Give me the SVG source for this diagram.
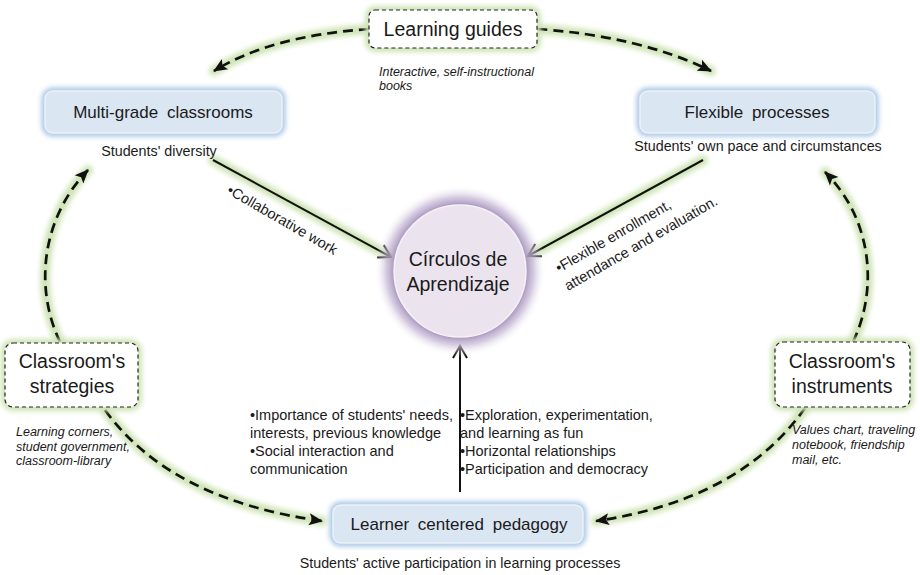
<svg xmlns="http://www.w3.org/2000/svg" width="920" height="575" viewBox="0 0 920 575">
  <defs>
    <style>
      text { font-family: "Liberation Sans", Arial, sans-serif; fill: #1a1a1a; }
      .title { font-size: 19.5px; }
      .box-label { font-size: 17px; word-spacing: 4px; }
      .sub { font-size: 14.3px; }
      .note { font-size: 12.5px; font-style: italic; }
      .bullet { font-size: 14.5px; }
      .halo { fill: none; stroke: #cfe4b6; stroke-width: 10; stroke-linecap: round; filter: url(#soft); }
      .dash { fill: none; stroke: #111; stroke-width: 2.7; stroke-dasharray: 10 6; marker-end: url(#tri); }
      .solid { fill: none; stroke: #111; stroke-width: 2; marker-end: url(#chev); }
      .dbox { fill: #fff; stroke: #222; stroke-width: 1.2; stroke-dasharray: 4 3; }
      .dbox-halo { fill: none; stroke: #cfe4b6; stroke-width: 8; filter: url(#soft); }
      .bbox { fill: #dbe6f3; stroke: #eaf1f9; stroke-width: 1.5; }
      .bbox-halo { fill: none; stroke: #a9c6e6; stroke-width: 7; filter: url(#soft); }
    </style>
    <filter id="soft" x="-20%" y="-20%" width="140%" height="140%">
      <feGaussianBlur stdDeviation="2.4"/>
    </filter>
    <radialGradient id="ringGlow" cx="0.5" cy="0.5" r="0.5">
      <stop offset="0.76" stop-color="#a390ba"/>
      <stop offset="0.86" stop-color="#c4b6d4" stop-opacity="0.7"/>
      <stop offset="1" stop-color="#ffffff" stop-opacity="0"/>
    </radialGradient>
    <marker id="tri" markerUnits="userSpaceOnUse" markerWidth="16" markerHeight="16" viewBox="0 0 16 16" refX="14" refY="8" orient="auto">
      <path d="M1 2 L15 8 L1 14 L4 8 Z" fill="#111"/>
    </marker>
    <marker id="chev" markerUnits="userSpaceOnUse" markerWidth="18" markerHeight="18" viewBox="0 0 18 18" refX="16" refY="9" orient="auto">
      <path d="M4 2 L16 9 L4 16" fill="none" stroke="#111" stroke-width="2"/>
    </marker>
  </defs>

  <rect width="920" height="575" fill="#ffffff"/>

  <!-- connectors -->
  <g id="connectors">
    <!-- green halos -->
    <path class="halo" d="M369 29 Q 270 36 214 71"/>
    <path class="halo" d="M537 29 Q 640 36 711 71"/>
    <path class="halo" d="M60 342 C 35 290 40 220 88 170"/>
    <path class="halo" d="M853 342 C 878 290 873 220 825 172"/>
    <path class="halo" d="M105 410 Q 170 500 322 521"/>
    <path class="halo" d="M805 408 Q 740 500 596 521"/>
    <path class="halo" d="M213 160 L 391 257"/>
    <path class="halo" d="M703 160 L 528 256"/>
    <path class="halo" d="M460 492 L 460 346"/>

    <!-- dashed arrows -->
    <path class="dash" d="M369 29 Q 270 36 214 71"/>
    <path class="dash" d="M537 29 Q 640 36 711 71"/>
    <path class="dash" d="M60 342 C 35 290 40 220 88 170"/>
    <path class="dash" d="M853 342 C 878 290 873 220 825 172"/>
    <path class="dash" d="M105 410 Q 170 500 322 521"/>
    <path class="dash" d="M805 408 Q 740 500 596 521"/>

    <!-- solid arrows into the centre -->
    <path class="solid" d="M213 160 L 391 257"/>
    <path class="solid" d="M703 160 L 528 256"/>
    <path class="solid" d="M460 492 L 460 346"/>

    <!-- arrow labels -->
    <text class="bullet" transform="translate(226 193) rotate(30)">•Collaborative work</text>
    <text class="bullet" transform="translate(559 273) rotate(-30)">•Flexible enrollment,</text>
    <text class="bullet" transform="translate(568 291) rotate(-30)">attendance and evaluation.</text>

    <text class="bullet" x="250" y="420">•Importance of students' needs,</text>
    <text class="bullet" x="250" y="438">interests, previous knowledge</text>
    <text class="bullet" x="250" y="456">•Social interaction and</text>
    <text class="bullet" x="250" y="474">communication</text>

    <text class="bullet" x="460" y="420">•Exploration, experimentation,</text>
    <text class="bullet" x="460" y="438">and learning as fun</text>
    <text class="bullet" x="460" y="456">•Horizontal relationships</text>
    <text class="bullet" x="460" y="474">•Participation and democracy</text>
  </g>

  <!-- centre -->
  <g id="circulos">
    <circle cx="460" cy="271" r="86" fill="url(#ringGlow)"/>
    <circle cx="460" cy="271" r="66" fill="#ebe4ef" stroke="#f6f2f8" stroke-width="1.5"/>
    <text class="title" x="458" y="266" text-anchor="middle">Círculos de</text>
    <text class="title" x="458" y="291" text-anchor="middle">Aprendizaje</text>
  </g>

  <g id="learning-guides">
    <rect class="dbox-halo" x="369" y="10" width="168" height="38" rx="6"/>
    <rect class="dbox" x="369" y="10" width="168" height="38" rx="6"/>
    <text class="title" x="453" y="36" text-anchor="middle">Learning guides</text>
    <text class="note" x="379" y="76">Interactive, self-instructional</text>
    <text class="note" x="379" y="90">books</text>
  </g>

  <g id="multi-grade">
    <rect class="bbox-halo" x="45" y="91" width="237" height="42" rx="8"/>
    <rect class="bbox" x="45" y="91" width="237" height="42" rx="8"/>
    <text class="box-label" x="163" y="118" text-anchor="middle">Multi-grade classrooms</text>
    <text class="sub" x="159" y="156" text-anchor="middle">Students' diversity</text>
  </g>

  <g id="flexible">
    <rect class="bbox-halo" x="640" y="91" width="235" height="42" rx="8"/>
    <rect class="bbox" x="640" y="91" width="235" height="42" rx="8"/>
    <text class="box-label" x="757" y="118" text-anchor="middle">Flexible processes</text>
    <text class="sub" x="758" y="151" text-anchor="middle">Students' own pace and circumstances</text>
  </g>

  <g id="strategies">
    <rect class="dbox-halo" x="5" y="343" width="133" height="64" rx="8"/>
    <rect class="dbox" x="5" y="343" width="133" height="64" rx="8"/>
    <text class="title" x="72" y="368" text-anchor="middle">Classroom's</text>
    <text class="title" x="72" y="393" text-anchor="middle">strategies</text>
    <text class="note" x="16" y="436">Learning corners,</text>
    <text class="note" x="16" y="451">student government,</text>
    <text class="note" x="16" y="465">classroom-library</text>
  </g>

  <g id="instruments">
    <rect class="dbox-halo" x="775" y="342" width="135" height="65" rx="8"/>
    <rect class="dbox" x="775" y="342" width="135" height="65" rx="8"/>
    <text class="title" x="842" y="368" text-anchor="middle">Classroom's</text>
    <text class="title" x="842" y="393" text-anchor="middle">instruments</text>
    <text class="note" x="792" y="434">Values chart, traveling</text>
    <text class="note" x="792" y="449">notebook, friendship</text>
    <text class="note" x="792" y="464">mail, etc.</text>
  </g>

  <g id="learner-centered">
    <rect class="bbox-halo" x="333" y="505" width="250" height="38" rx="8"/>
    <rect class="bbox" x="333" y="505" width="250" height="38" rx="8"/>
    <text class="box-label" x="459" y="530" text-anchor="middle">Learner centered pedagogy</text>
    <text class="sub" x="460" y="568" text-anchor="middle">Students' active participation in learning processes</text>
  </g>
</svg>
